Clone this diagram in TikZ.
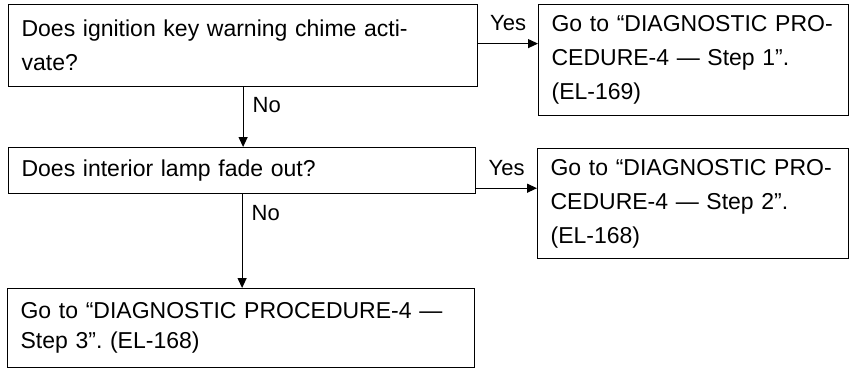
\documentclass[tikz,border=0pt]{standalone}
\usepackage{fontspec}
\setmainfont{Liberation Sans}
\usetikzlibrary{arrows.meta}
\frenchspacing
\tikzset{
    check box/.style={
        draw,
        line width=1.2pt,
        anchor=north west,
        inner xsep=13pt,
        inner ysep=0pt,
        align=left,
        font=\fontsize{23}{34}\selectfont
    },
    flow arrow/.style={
        line width=1.2pt,
        -{Triangle[length=10pt,width=9pt]}
    },
    answer/.style={
        font=\fontsize{22}{24}\selectfont,
        inner sep=0pt
    }
}

\begin{document}
\begin{tikzpicture}[x=1pt,y=-1pt]
    \useasboundingbox (0,0) rectangle (857,370);
    % questions on the left, procedures on the right
    \node[check box, text width=443pt, minimum height=82pt] (chime) at (8,4)
        {Does ignition key warning chime acti-\\vate?};
    \node[check box, text width=284pt, minimum height=111pt] (step1) at (538,4)
        {Go to ``DIAGNOSTIC PRO-\\CEDURE-4 --- Step 1''.\\(EL-169)};
    \node[check box, text width=441pt, minimum height=46pt] (lamp) at (8,147)
        {Does interior lamp fade out?};
    \node[check box, text width=285pt, minimum height=110pt] (step2) at (537,148)
        {Go to ``DIAGNOSTIC PRO-\\CEDURE-4 --- Step 2''.\\(EL-168)};
    \node[check box, text width=441pt, minimum height=79pt,
          font=\fontsize{23}{30}\selectfont] (step3) at (7,288)
        {Go to ``DIAGNOSTIC PROCEDURE-4 ---\\Step 3''. (EL-168)};

    % yes branches
    \draw[flow arrow] ([yshift=2pt]chime.east) coordinate (yes1) -- (yes1 -| step1.west)
        node[midway, above=12pt, answer] {Yes};
    \draw[flow arrow] ([yshift=6pt]lamp.south east) coordinate (yes2) -- (yes2 -| step2.west)
        node[midway, above=12pt, answer] {Yes};

    % no branches
    \draw[flow arrow] (chime.south) -- (chime.south |- lamp.north)
        node[pos=0.3, right=9pt, answer] {No};
    \draw[flow arrow] (lamp.south) -- (lamp.south |- step3.north)
        node[pos=0.2, right=9pt, answer] {No};
\end{tikzpicture}
\end{document}
